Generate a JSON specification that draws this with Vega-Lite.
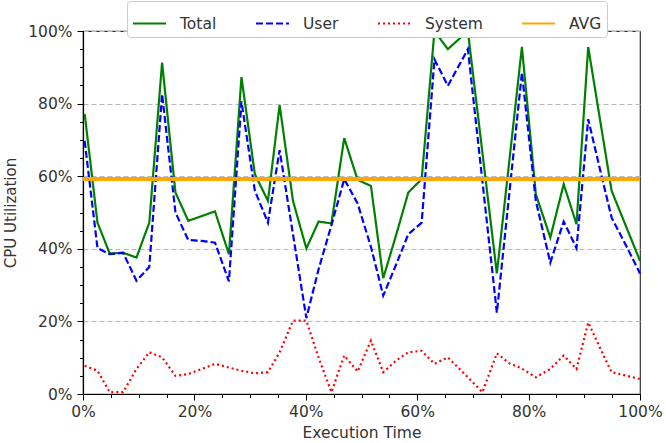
{
  "$schema": "https://vega.github.io/schema/vega-lite/v6.json",
  "width": 557,
  "height": 363,
  "autosize": "none",
  "padding": {"left": 83, "top": 31, "right": 26, "bottom": 49},
  "background": "white",
  "config": {
    "font": "DejaVu Sans",
    "view": {"stroke": "#333333", "strokeWidth": 1.2}
  },
  "data": {
    "values": [
      {"t": 0.3, "Total": 77.2, "User": 69.7, "System": 7.8},
      {"t": 2.6, "Total": 47.2, "User": 40.2, "System": 6.4},
      {"t": 4.8, "Total": 38.7, "User": 38.5, "System": 0.5},
      {"t": 7.2, "Total": 38.9, "User": 38.9, "System": 0.5},
      {"t": 9.6, "Total": 37.6, "User": 31.2, "System": 6.9},
      {"t": 11.9, "Total": 47.2, "User": 35.0, "System": 11.5},
      {"t": 14.2, "Total": 91.3, "User": 82.6, "System": 10.1},
      {"t": 16.6, "Total": 55.5, "User": 50.0, "System": 5.0},
      {"t": 18.9, "Total": 47.7, "User": 42.4, "System": 5.5},
      {"t": 21.3, "Total": 49.0, "User": 42.2, "System": 6.9},
      {"t": 23.7, "Total": 50.3, "User": 41.7, "System": 8.3},
      {"t": 26.2, "Total": 38.5, "User": 31.0, "System": 7.3},
      {"t": 28.45, "Total": 87.3, "User": 80.6, "System": 6.4},
      {"t": 30.85, "Total": 60.6, "User": 56.0, "System": 5.7},
      {"t": 33.2, "Total": 53.2, "User": 47.2, "System": 6.0},
      {"t": 35.3, "Total": 79.6, "User": 67.2, "System": 11.5},
      {"t": 37.7, "Total": 53.2, "User": 44.0, "System": 20.2},
      {"t": 40.1, "Total": 40.1, "User": 20.9, "System": 20.2},
      {"t": 42.3, "Total": 47.5, "User": 34.4, "System": 10.0},
      {"t": 44.6, "Total": 47.0, "User": 46.5, "System": 0.5},
      {"t": 46.9, "Total": 70.5, "User": 59.2, "System": 10.6},
      {"t": 49.3, "Total": 59.0, "User": 52.5, "System": 6.2},
      {"t": 51.7, "Total": 57.3, "User": 40.5, "System": 14.7},
      {"t": 53.9, "Total": 31.9, "User": 27.1, "System": 6.0},
      {"t": 56.2, "Total": 43.7, "User": 35.6, "System": 9.2},
      {"t": 58.4, "Total": 55.5, "User": 44.0, "System": 11.5},
      {"t": 60.8, "Total": 59.2, "User": 47.2, "System": 11.9},
      {"t": 63.1, "Total": 100, "User": 92.2, "System": 8.3},
      {"t": 65.5, "Total": 95.0, "User": 84.9, "System": 10.1},
      {"t": 69.1, "Total": 100, "User": 95.0, "System": 4.6},
      {"t": 71.7, "Total": 66.6, "User": 58.7, "System": 0.5},
      {"t": 74.3, "Total": 33.2, "User": 22.4, "System": 11.2},
      {"t": 76.5, "Total": 63.7, "User": 54.7, "System": 8.5},
      {"t": 78.8, "Total": 95.6, "User": 88.5, "System": 7.0},
      {"t": 81.3, "Total": 55.0, "User": 53.2, "System": 4.6},
      {"t": 83.9, "Total": 43.1, "User": 36.2, "System": 6.9},
      {"t": 86.3, "Total": 57.8, "User": 47.5, "System": 10.6},
      {"t": 88.6, "Total": 46.8, "User": 40.2, "System": 6.9},
      {"t": 90.7, "Total": 95.6, "User": 75.7, "System": 19.7},
      {"t": 92.8, "Total": 75.8, "User": 62.0, "System": 12.8},
      {"t": 94.9, "Total": 56.0, "User": 48.6, "System": 6.0},
      {"t": 97.7, "Total": 45.4, "User": 40.3, "System": 5.0},
      {"t": 100, "Total": 36.7, "User": 33.2, "System": 4.1}
    ]
  },
  "resolve": {"axis": {"x": "independent", "y": "independent"}},
  "layer": [
    {
      "transform": [{"fold": ["Total", "User", "System"], "as": ["s", "v"]}],
      "mark": {"type": "line", "strokeWidth": 2.2},
      "encoding": {
        "x": {
          "field": "t", "type": "quantitative",
          "scale": {"domain": [0, 100], "nice": false, "zero": false},
          "axis": {
            "orient": "bottom",
            "values": [0, 20, 40, 60, 80, 100],
            "labelExpr": "datum.value + '%'",
            "grid": false,
            "tickSize": 6, "tickColor": "#000000", "tickWidth": 1,
            "domainColor": "#000000", "domainWidth": 1.2,
            "labelFontSize": 15.5, "labelColor": "#333333", "labelPadding": 4,
            "labelFlush": false,
            "title": "Execution Time", "titleFontSize": 15.5, "titleFontWeight": "normal",
            "titleColor": "#333333", "titlePadding": 6
          }
        },
        "y": {
          "field": "v", "type": "quantitative",
          "scale": {"domain": [0, 100], "nice": false},
          "axis": {
            "orient": "left",
            "values": [0, 20, 40, 60, 80, 100],
            "labelExpr": "datum.value + '%'",
            "grid": true, "gridDash": [5, 3], "gridColor": "#b8b8b8", "gridWidth": 1,
            "tickSize": 6, "tickColor": "#000000", "tickWidth": 1,
            "domainColor": "#000000", "domainWidth": 1.2,
            "labelFontSize": 15.5, "labelColor": "#333333", "labelPadding": 5,
            "labelFlush": false,
            "title": "CPU Utilization", "titleFontSize": 15, "titleFontWeight": "normal",
            "titleColor": "#333333", "titlePadding": 9
          }
        },
        "color": {
          "field": "s", "type": "nominal",
          "scale": {"domain": ["Total", "User", "System", "AVG"], "range": ["#008000", "#0000ff", "#ff0000", "#ffa500"]},
          "legend": {
            "title": null, "orient": "none", "legendX": 44, "legendY": -30,
            "direction": "horizontal", "columns": 4, "gridAlign": "none",
            "columnPadding": 35, "symbolType": "stroke", "symbolSize": 1089,
            "symbolStrokeWidth": 2, "labelFontSize": 15.5, "labelOffset": 13,
            "labelColor": "#333333", "padding": 5, "strokeColor": "#cccccc",
            "fillColor": "white", "cornerRadius": 3
          }
        },
        "strokeDash": {
          "field": "s", "type": "nominal",
          "scale": {"domain": ["Total", "User", "System", "AVG"], "range": [[1, 0], [7, 3], [2, 3], [1, 0]]},
          "legend": {
            "title": null, "orient": "none", "legendX": 44, "legendY": -30,
            "direction": "horizontal", "columns": 4, "gridAlign": "none",
            "columnPadding": 35, "symbolType": "stroke", "symbolSize": 1089,
            "symbolStrokeWidth": 2, "labelFontSize": 15.5, "labelOffset": 13,
            "labelColor": "#333333", "padding": 5, "strokeColor": "#cccccc",
            "fillColor": "white", "cornerRadius": 3
          }
        }
      }
    },
    {
      "mark": {"type": "rule", "color": "#ffa500", "strokeWidth": 3.5},
      "encoding": {"y": {"datum": 59.3, "type": "quantitative", "axis": null}}
    },
    {
      "mark": {"type": "point", "opacity": 0},
      "encoding": {
        "x": {
          "field": "t", "type": "quantitative",
          "axis": {"orient": "bottom", "values": [0,5,10,15,20,25,30,35,40,45,50,55,60,65,70,75,80,85,90,95,100], "labels": false, "domain": false, "grid": false, "tickSize": 3.5, "tickColor": "#000000", "title": null}
        },
        "y": {
          "field": "System", "type": "quantitative",
          "axis": {"orient": "left", "values": [0,5,10,15,20,25,30,35,40,45,50,55,60,65,70,75,80,85,90,95,100], "labels": false, "domain": false, "grid": false, "tickSize": 3.5, "tickColor": "#000000", "title": null}
        }
      }
    }
  ]
}
